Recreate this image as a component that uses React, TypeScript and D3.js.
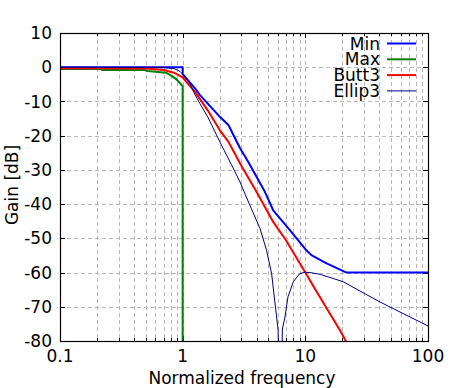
import { useRef, useEffect } from "react";
import * as d3 from "d3";

// [normalized frequency, gain dB]
const minCurve: [number, number][] = [
  [0.1, 0], [1, 0], [1, -2], [1.26, -6.2], [1.38, -8.1], [2.01, -14.5],
  [2.36, -16.9], [2.93, -23.6], [3.42, -27.6], [4.0, -32], [4.68, -36.4],
  [5.47, -41.8], [7.48, -47.6], [10.2, -53.5], [11.2, -54.9], [14.9, -57.3],
  [21.7, -60], [100, -60],
];
const maxCurve: [number, number][] = [
  [0.1, -0.5], [0.22, -0.5], [0.22, -0.8], [0.49, -0.8], [0.52, -1.1],
  [0.73, -1.6], [0.82, -2.6], [0.9, -3.7], [0.98, -5.2], [1, -5.5], [1, -90],
];
const butt3Curve: [number, number][] = [
  [0.1, -0.3], [0.5, -0.4], [0.7, -0.8], [0.85, -1.6], [1, -3], [1.26, -7.2],
  [1.6, -12.6], [2, -18.3], [2.36, -21.8], [3, -28.7], [3.88, -35.6],
  [4.15, -37.4], [5.47, -45.2], [7, -50.7], [8, -54.2], [10, -60],
  [12, -64.8], [15, -70.6], [19.1, -76.8], [21.4, -80], [25, -84],
];
const ellip3Curve: [number, number][] = [
  [0.1, 0], [0.7, -0.1], [0.85, -0.4], [0.95, -1.2], [1, -2], [1.14, -4.7],
  [1.26, -8], [1.38, -10.6], [1.6, -14.5], [2.01, -21.8], [2.5, -28.5],
  [2.93, -33.5], [3.22, -37], [3.7, -42], [4.27, -47.1], [4.83, -53.5],
  [5.31, -60.3], [5.62, -68], [6.0, -76.8], [6.25, -120], [6.5, -76.5],
  [6.82, -73], [7.22, -67.1], [7.98, -62.7], [9, -60.3], [10, -59.9],
  [10.9, -60], [13.2, -60.5], [20.4, -62.7], [27.9, -65.4], [40.6, -68.6],
  [100, -75.6],
];

const seriesNames = ["Min", "Max", "Butt3", "Ellip3"];
const seriesColors = ["#0000ff", "#008000", "#ff0000", "#000080"];
const seriesWidths = [2, 2, 2, 1];
const seriesData = [minCurve, maxCurve, butt3Curve, ellip3Curve];

const yTicks = [10, 0, -10, -20, -30, -40, -50, -60, -70, -80];
const xTicks = [0.1, 1, 10, 100];
const xTickLabels = ["0.1", "1", "10", "100"];

const App = () => {
  const svgRef = useRef<SVGSVGElement>(null);

  useEffect(() => {
    const svg = d3.select(svgRef.current);
    svg.selectAll("*").remove();

    const width = 472;
    const height = 388;
    const margin = { top: 33, right: 44, bottom: 47, left: 60 };
    const innerWidth = width - margin.left - margin.right;
    const innerHeight = height - margin.top - margin.bottom;
    const font = "DejaVu Sans, sans-serif";
    const fontSize = 17;

    const xScale = d3.scaleLog().domain([0.1, 100]).range([0, innerWidth]);
    const yScale = d3.scaleLinear().domain([-80, 10]).range([innerHeight, 0]);

    svg.append("rect").attr("width", width).attr("height", height).attr("fill", "#fff");

    const chart = svg
      .append("g")
      .attr("transform", `translate(${margin.left}, ${margin.top})`);

    chart
      .append("clipPath")
      .attr("id", "plot-clip")
      .append("rect")
      .attr("width", innerWidth)
      .attr("height", innerHeight);

    // minor x values (2..9 per decade)
    const minorX: number[] = [];
    [0.1, 1, 10].forEach((d) => {
      for (let k = 2; k <= 9; k++) minorX.push(d * k);
    });

    // grid
    const grid = chart.append("g").attr("stroke", "#b8b8b8").attr("stroke-dasharray", "4,3");
    [...minorX, 1, 10].forEach((v) => {
      const x = Math.round(xScale(v)) + 0.5;
      grid.append("line").attr("x1", x).attr("x2", x).attr("y1", 0).attr("y2", innerHeight);
    });
    yTicks.slice(1, -1).forEach((v) => {
      const y = Math.round(yScale(v)) + 0.5;
      grid.append("line").attr("x1", 0).attr("x2", innerWidth).attr("y1", y).attr("y2", y);
    });

    // ticks (inward, mirrored)
    const ticks = chart.append("g").attr("stroke", "#000");
    yTicks.forEach((v) => {
      const y = Math.round(yScale(v)) + 0.5;
      ticks.append("line").attr("x1", 0).attr("x2", 5).attr("y1", y).attr("y2", y);
      ticks.append("line").attr("x1", innerWidth - 5).attr("x2", innerWidth).attr("y1", y).attr("y2", y);
    });
    xTicks.forEach((v) => {
      const x = Math.round(xScale(v)) + 0.5;
      ticks.append("line").attr("x1", x).attr("x2", x).attr("y1", innerHeight).attr("y2", innerHeight - 5);
      ticks.append("line").attr("x1", x).attr("x2", x).attr("y1", 0).attr("y2", 5);
    });
    minorX.forEach((v) => {
      const x = Math.round(xScale(v)) + 0.5;
      ticks.append("line").attr("x1", x).attr("x2", x).attr("y1", innerHeight).attr("y2", innerHeight - 3);
      ticks.append("line").attr("x1", x).attr("x2", x).attr("y1", 0).attr("y2", 3);
    });

    // curves
    const line = d3
      .line<[number, number]>()
      .x((d) => xScale(d[0]))
      .y((d) => yScale(d[1]));

    const curves = chart.append("g").attr("clip-path", "url(#plot-clip)");
    seriesData.forEach((data, i) => {
      curves
        .append("path")
        .datum(data)
        .attr("fill", "none")
        .attr("stroke", seriesColors[i])
        .attr("stroke-width", seriesWidths[i])
        .attr("stroke-linejoin", "round")
        .attr("d", line);
    });

    // frame
    chart
      .append("rect")
      .attr("x", 0.5)
      .attr("y", 0.5)
      .attr("width", innerWidth)
      .attr("height", innerHeight)
      .attr("fill", "none")
      .attr("stroke", "#000")
      .attr("stroke-width", 1.2);

    // tick labels
    yTicks.forEach((v) => {
      chart
        .append("text")
        .attr("x", -8)
        .attr("y", yScale(v))
        .attr("dy", "0.36em")
        .attr("text-anchor", "end")
        .attr("font-family", font)
        .attr("font-size", fontSize)
        .text(String(v));
    });
    xTicks.forEach((v, i) => {
      chart
        .append("text")
        .attr("x", xScale(v))
        .attr("y", innerHeight + 21)
        .attr("text-anchor", "middle")
        .attr("font-family", font)
        .attr("font-size", fontSize)
        .text(xTickLabels[i]);
    });

    // axis titles
    chart
      .append("text")
      .attr("x", innerWidth / 2 - 2)
      .attr("y", innerHeight + 43)
      .attr("text-anchor", "middle")
      .attr("font-family", font)
      .attr("font-size", fontSize)
      .text("Normalized frequency");

    svg
      .append("text")
      .attr("transform", `translate(18, ${margin.top + innerHeight / 2 - 2}) rotate(-90)`)
      .attr("text-anchor", "middle")
      .attr("font-family", font)
      .attr("font-size", fontSize)
      .text("Gain [dB]");

    // legend
    const legend = svg.append("g");
    seriesNames.forEach((name, i) => {
      const y = 43.5 + i * 15.8;
      legend
        .append("text")
        .attr("x", 380)
        .attr("y", y)
        .attr("dy", "0.36em")
        .attr("text-anchor", "end")
        .attr("font-family", font)
        .attr("font-size", fontSize)
        .text(name);
      legend
        .append("line")
        .attr("x1", 387)
        .attr("x2", 416)
        .attr("y1", y)
        .attr("y2", y)
        .attr("stroke", seriesColors[i])
        .attr("stroke-width", seriesWidths[i]);
    });
  }, []);

  return (
    <svg
      ref={svgRef}
      width={472}
      height={388}
      style={{ position: "absolute", left: 0, top: 0 }}
    ></svg>
  );
};

export default App;
